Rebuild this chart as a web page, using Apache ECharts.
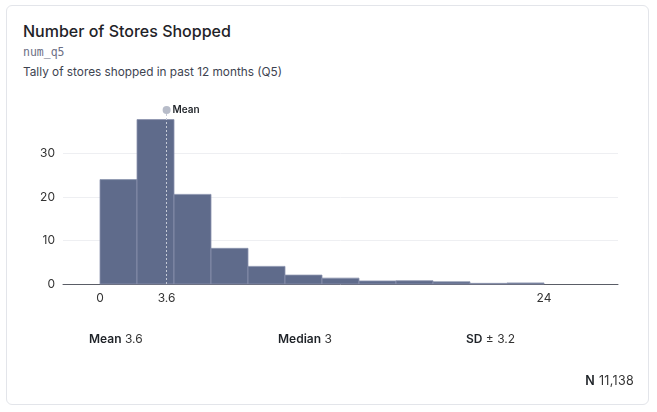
<!DOCTYPE html>
<html>
<head>
<meta charset="utf-8">
<script src="https://cdn.jsdelivr.net/npm/echarts@6/dist/echarts.min.js"></script>
<style>
  html, body { margin: 0; padding: 0; background: #fff; }
  body { width: 657px; height: 412px; position: relative; font-family: Inter, "Noto Sans", sans-serif; overflow: hidden; }
  .card { position: absolute; left: 6px; top: 5px; width: 643px; height: 400px; border: 1px solid #e3e5ea; border-radius: 6px; box-sizing: border-box; }
  .title { position: absolute; left: 23px; top: 21px; font-size: 16px; font-weight: 500; color: #1f2328; }
  .code { position: absolute; left: 23px; top: 45px; font-family: "DejaVu Sans Mono", monospace; font-size: 11.5px; color: #6b6f85; }
  .desc { position: absolute; left: 23px; top: 65px; font-size: 11.8px; color: #3d4350; }
  .stat { position: absolute; top: 331px; font-size: 12px; color: #333; }
  .stat b { font-weight: 600; color: #1f2328; }
  .n { position: absolute; right: 23px; top: 373px; font-size: 12.5px; color: #333; letter-spacing: 0.3px; }
  .n b { font-weight: 600; color: #1f2328; }
  #chart { position: absolute; left: 0; top: 0; width: 657px; height: 412px; }
</style>
</head>
<body>
<div class="card"></div>
<div class="title">Number of Stores Shopped</div>
<div class="code">num_q5</div>
<div class="desc">Tally of stores shopped in past 12 months (Q5)</div>
<div id="chart"></div>
<div class="stat" style="left:89px"><b>Mean</b> 3.6</div>
<div class="stat" style="left:278px"><b>Median</b> 3</div>
<div class="stat" style="left:466px"><b>SD</b> ± 3.2</div>
<div class="n"><b>N</b> 11,138</div>
<script>
// histogram bins (width 2), percent of respondents
const binStarts = [0, 2, 4, 6, 8, 10, 12, 14, 16, 18, 20, 22];
const binWidth = 2;
const percents = [24.0, 37.8, 20.6, 8.2, 4.05, 2.05, 1.35, 0.7, 0.75, 0.5, 0.15, 0.25];
const meanValue = 3.6;
const xTickValues = [0, 3.6, 24];
const yTickValues = [0, 10, 20, 30];

const chart = echarts.init(document.getElementById('chart'));

const barData = binStarts.map((s, i) => [s, s + binWidth, percents[i]]);

const option = {
    animation: false,
    grid: { left: 63, right: 39, top: 110, bottom: 128 },
    xAxis: {
        type: 'value',
        min: -2,
        max: 28,
        axisLine: { show: true, lineStyle: { color: '#5a5d66', width: 1 } },
        axisTick: { show: false },
        splitLine: { show: false },
        axisLabel: {
            customValues: xTickValues,
            color: '#333',
            fontSize: 12,
            fontFamily: 'Inter',
            margin: 8
        }
    },
    yAxis: {
        type: 'value',
        min: 0,
        max: 40,
        interval: 10,
        axisLine: { show: false },
        axisTick: { show: false },
        axisLabel: {
            customValues: yTickValues,
            color: '#333',
            fontSize: 12,
            fontFamily: 'Inter',
            margin: 8
        },
        splitLine: { show: false }
    },
    series: [
        {
            type: 'custom',
            data: barData,
            encode: { x: [0, 1], y: 2 },
            renderItem: function (params, api) {
                const p0 = api.coord([api.value(0), api.value(2)]);
                const p1 = api.coord([api.value(1), 0]);
                return {
                    type: 'rect',
                    shape: { x: p0[0], y: p0[1], width: p1[0] - p0[0], height: p1[1] - p0[1] },
                    style: { fill: '#5f6b8b', stroke: '#8a93ad', lineWidth: 0.8 }
                };
            },
            z: 3,
            markLine: {
                silent: true,
                symbol: ['none', 'none'],
                label: { show: false },
                lineStyle: { color: '#eeeff2', type: 'solid', width: 1 },
                z: 1,
                data: [{ yAxis: 10 }, { yAxis: 20 }, { yAxis: 30 }]
            }
        },
        {
            type: 'line',
            data: [],
            z: 5,
            markLine: {
                silent: true,
                symbol: ['none', 'none'],
                label: { show: false },
                lineStyle: { color: '#c5cad6', type: [2, 2], width: 1 },
                data: [[{ coord: [meanValue, 0] }, { coord: [meanValue, 40] }]]
            },
            markPoint: {
                silent: true,
                symbol: 'circle',
                symbolSize: 8,
                itemStyle: { color: '#b7bcc9' },
                label: {
                    show: true,
                    position: 'right',
                    distance: 2,
                    formatter: 'Mean',
                    color: '#1f2328',
                    fontSize: 10,
                    fontWeight: 600,
                    fontFamily: 'Inter'
                },
                data: [{ coord: [meanValue, 40] }]
            }
        }
    ]
};

chart.setOption(option);
</script>
</body>
</html>
